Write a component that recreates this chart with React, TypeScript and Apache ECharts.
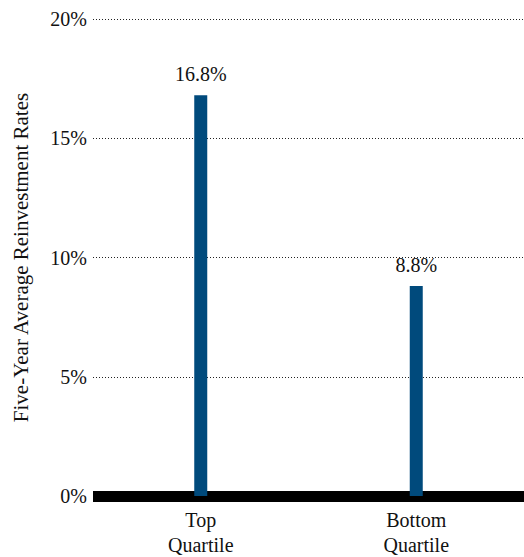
import React, { useEffect, useRef } from "react";
import * as echarts from "echarts";

const categories = ["Top\nQuartile", "Bottom\nQuartile"];
const values = [16.8, 8.8];
const yTicks = [0, 5, 10, 15, 20];

export default function App() {
  const ref = useRef<HTMLDivElement>(null);
  useEffect(() => {
    if (!ref.current) return;
    const chart = echarts.init(ref.current, null, { renderer: "svg" });
    const font = "Liberation Serif";
    const labelStyle = { color: "#111", fontSize: 20, fontFamily: font };
    chart.setOption({
      animation: false,
      textStyle: { fontFamily: font, color: "#111" },
      grid: { left: 93, right: 0, top: 19, bottom: 59.5, containLabel: false },
      xAxis: {
        type: "category",
        data: categories,
        axisLine: { show: true, lineStyle: { color: "#000", width: 11, cap: "butt" } },
        axisTick: { show: false },
        axisLabel: { ...labelStyle, lineHeight: 25, margin: 11 },
      },
      yAxis: {
        type: "value",
        min: yTicks[0],
        max: yTicks[yTicks.length - 1],
        interval: 5,
        name: "Five-Year Average Reinvestment Rates",
        nameLocation: "middle",
        nameGap: 62,
        nameTextStyle: { color: "#111", fontSize: 21, fontFamily: font },
        axisLine: { show: false },
        axisTick: { show: false },
        axisLabel: { ...labelStyle, margin: 6, formatter: "{value}%" },
        splitLine: {
          show: true,
          lineStyle: { color: "#222", width: 1, type: [1, 2] },
        },
      },
      series: [
        {
          type: "bar",
          data: values,
          barWidth: 13,
          itemStyle: { color: "#004a7c" },
          label: {
            show: true,
            position: "top",
            distance: 11,
            ...labelStyle,
            formatter: (p: any) => `${p.value.toFixed(1)}%`,
          },
        },
      ],
    });
    return () => chart.dispose();
  }, []);
  return (
    <div
      ref={ref}
      style={{ position: "absolute", left: 0, top: 0, width: 524, height: 557 }}
    />
  );
}
